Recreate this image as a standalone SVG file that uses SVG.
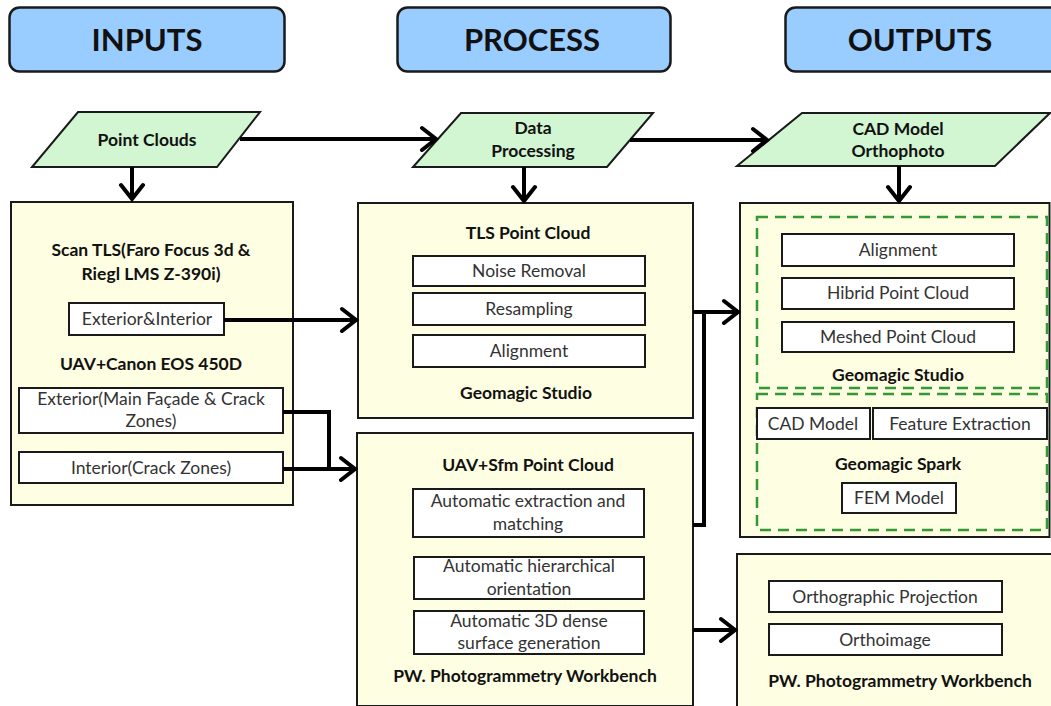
<svg xmlns="http://www.w3.org/2000/svg" width="1051" height="706" viewBox="0 0 1051 706">
  <style>
    .hdr { fill: #99ccff; stroke: #1a1a1a; stroke-width: 2.5; }
    .hdr-t { font-family: Lato, "Liberation Sans", sans-serif; font-weight: bold; font-size: 31px; fill: #111; text-anchor: middle; }
    .para { fill: #d2f5d2; stroke: #1a1a1a; stroke-width: 2; }
    .panel { fill: #fefee2; stroke: #1a1a1a; stroke-width: 2; }
    .item { fill: #ffffff; stroke: #1a1a1a; stroke-width: 2; }
    .group { fill: none; stroke: #339933; stroke-width: 2.5; stroke-dasharray: 11 7; }
    .title { font-family: Lato, "Liberation Sans", sans-serif; font-weight: bold; font-size: 17.5px; fill: #111; text-anchor: middle; }
    .label { font-family: Lato, "Liberation Sans", sans-serif; font-size: 17.5px; fill: #333; text-anchor: middle; }
    .wire { fill: none; stroke: #000; stroke-width: 4; }
  </style>
  <defs>
    <marker id="chev" viewBox="0 0 20 28" markerUnits="userSpaceOnUse" markerWidth="20" markerHeight="28" refX="17" refY="14" orient="auto">
      <path d="M3,3 L17,14 L3,25" fill="none" stroke="#000" stroke-width="4" stroke-linecap="round" stroke-linejoin="miter"/>
    </marker>
  </defs>

  <rect width="1051" height="706" fill="#ffffff"/>

  <!-- column headers -->
  <g id="hdr-inputs">
    <rect class="hdr" x="9.5" y="7.5" width="275" height="64" rx="10"/>
    <text class="hdr-t" x="147" y="51">INPUTS</text>
  </g>
  <g id="hdr-process">
    <rect class="hdr" x="397.5" y="7.5" width="273" height="64" rx="10"/>
    <text class="hdr-t" x="532" y="51">PROCESS</text>
  </g>
  <g id="hdr-outputs">
    <rect class="hdr" x="785.5" y="7.5" width="280" height="64" rx="10"/>
    <text class="hdr-t" x="920" y="51">OUTPUTS</text>
  </g>

  <!-- data parallelograms -->
  <g id="point-clouds">
    <polygon class="para" points="78,112 260,112 217,167 32,167"/>
    <text class="title" x="147" y="146">Point Clouds</text>
  </g>
  <g id="data-processing">
    <polygon class="para" points="461,113 653,113 607,167 413,167"/>
    <text class="title" x="533" y="134">Data</text>
    <text class="title" x="533" y="157">Processing</text>
  </g>
  <g id="cad-orthophoto">
    <polygon class="para" points="802,113 1050,113 995,166 737,166"/>
    <text class="title" x="898" y="135">CAD Model</text>
    <text class="title" x="898" y="157">Orthophoto</text>
  </g>

  <!-- input sources -->
  <g id="inputs-panel">
    <rect class="panel" x="11" y="202" width="282" height="303"/>
    <text class="title" x="151" y="256">Scan TLS(Faro Focus 3d &amp;</text>
    <text class="title" x="151" y="280">Riegl LMS Z-390i)</text>
    <rect class="item" x="69" y="303" width="155" height="32"/>
    <text class="label" x="147" y="325">Exterior&amp;Interior</text>
    <text class="title" x="151" y="370">UAV+Canon EOS 450D</text>
    <rect class="item" x="19" y="388" width="264" height="45"/>
    <text class="label" x="151" y="405">Exterior(Main Façade &amp; Crack</text>
    <text class="label" x="151" y="427">Zones)</text>
    <rect class="item" x="19" y="452" width="264" height="31"/>
    <text class="label" x="151" y="474">Interior(Crack Zones)</text>
  </g>

  <!-- TLS processing -->
  <g id="tls-process">
    <rect class="panel" x="358" y="203" width="335" height="215"/>
    <text class="title" x="528" y="239">TLS Point Cloud</text>
    <rect class="item" x="413" y="256" width="232" height="30"/>
    <text class="label" x="529" y="277">Noise Removal</text>
    <rect class="item" x="413" y="293" width="232" height="32"/>
    <text class="label" x="529" y="315">Resampling</text>
    <rect class="item" x="413" y="335" width="232" height="32"/>
    <text class="label" x="529" y="357">Alignment</text>
    <text class="title" x="526" y="399">Geomagic Studio</text>
  </g>

  <!-- UAV / SfM processing -->
  <g id="uav-process">
    <rect class="panel" x="357" y="433" width="336" height="273"/>
    <text class="title" x="528" y="471">UAV+Sfm Point Cloud</text>
    <rect class="item" x="413" y="489" width="231" height="48"/>
    <text class="label" x="528" y="507">Automatic extraction and</text>
    <text class="label" x="528" y="530">matching</text>
    <rect class="item" x="414" y="557" width="230" height="42"/>
    <text class="label" x="529" y="572">Automatic hierarchical</text>
    <text class="label" x="529" y="595">orientation</text>
    <rect class="item" x="414" y="611" width="230" height="43"/>
    <text class="label" x="529" y="627">Automatic 3D dense</text>
    <text class="label" x="529" y="649">surface generation</text>
    <text class="title" x="525" y="682">PW. Photogrammetry Workbench</text>
  </g>

  <!-- modelling outputs -->
  <g id="model-outputs">
    <rect class="panel" x="740" y="203" width="309.5" height="334"/>
    <rect class="group" x="757" y="217" width="290" height="171"/>
    <rect class="group" x="757" y="394" width="290" height="136"/>
    <rect class="item" x="782" y="234" width="232" height="32"/>
    <text class="label" x="898" y="256">Alignment</text>
    <rect class="item" x="782" y="278" width="232" height="31"/>
    <text class="label" x="898" y="299">Hibrid Point Cloud</text>
    <rect class="item" x="782" y="322" width="232" height="30"/>
    <text class="label" x="898" y="343">Meshed Point Cloud</text>
    <text class="title" x="898" y="381">Geomagic Studio</text>
    <rect class="item" x="757" y="408" width="113" height="31"/>
    <text class="label" x="813" y="430">CAD Model</text>
    <rect class="item" x="873" y="408" width="174" height="31"/>
    <text class="label" x="960" y="430">Feature Extraction</text>
    <text class="title" x="898" y="470">Geomagic Spark</text>
    <rect class="item" x="842" y="483" width="114" height="30"/>
    <text class="label" x="899" y="504">FEM Model</text>
  </g>

  <!-- orthoimage outputs -->
  <g id="ortho-outputs">
    <rect class="panel" x="737" y="554" width="330" height="170"/>
    <rect class="item" x="769" y="581" width="233" height="31"/>
    <text class="label" x="885" y="603">Orthographic Projection</text>
    <rect class="item" x="769" y="624" width="233" height="31"/>
    <text class="label" x="885" y="646">Orthoimage</text>
    <text class="title" x="900" y="687">PW. Photogrammetry Workbench</text>
  </g>

  <!-- connectors -->
  <g id="connectors">
    <path class="wire" d="M240,139 H436" marker-end="url(#chev)"/>
    <path class="wire" d="M630,140 H767" marker-end="url(#chev)"/>
    <path class="wire" d="M132,167 V199" marker-end="url(#chev)"/>
    <path class="wire" d="M524,167 V201" marker-end="url(#chev)"/>
    <path class="wire" d="M899,166 V201" marker-end="url(#chev)"/>
    <path class="wire" d="M224,320 H356" marker-end="url(#chev)"/>
    <path class="wire" d="M283,412 H329 V469"/>
    <path class="wire" d="M283,469 H355" marker-end="url(#chev)"/>
    <path class="wire" d="M693,312 H738" marker-end="url(#chev)"/>
    <path class="wire" d="M693,525 H704 V312"/>
    <path class="wire" d="M693,630 H735" marker-end="url(#chev)"/>
  </g>
</svg>
